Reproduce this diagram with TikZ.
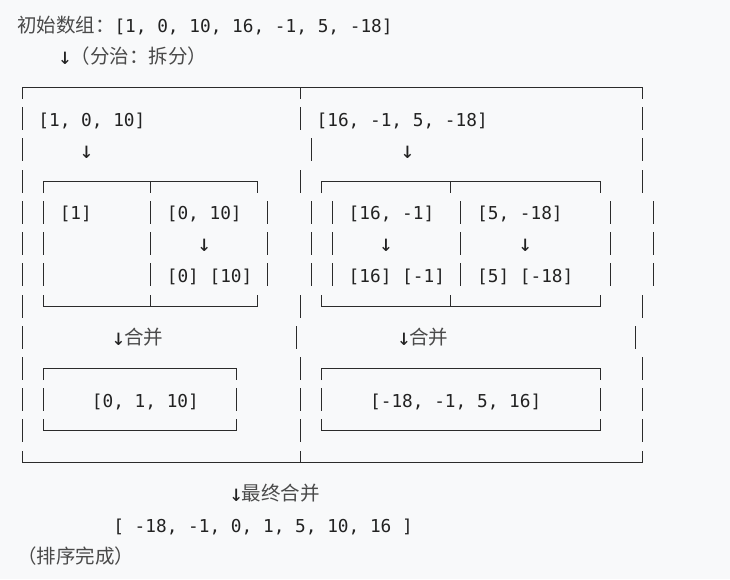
\documentclass[tikz,border=0pt]{standalone}
\usepackage{fontspec}
\newfontfamily\monofam{DejaVu Sans Mono}
\newfontfamily\cjkfam{Noto Sans CJK SC}
\definecolor{bg}{HTML}{F8F9FA}
\definecolor{ink}{HTML}{222222}
\definecolor{cjkcol}{HTML}{4A4A4A}
\definecolor{linecol}{HTML}{2B2B2B}
\newcommand\monof{\monofam\fontsize{17.77}{20}\selectfont}
\newcommand\cjkf{\cjkfam\fontsize{19.5}{22}\selectfont\color{cjkcol}}
\newcommand\darr{\makebox[10.7pt]{\fontsize{23}{23}\selectfont\raisebox{-0.6pt}{↓}}}
\newcommand\ry[1]{(25+31.23*(#1))}
\newcommand\ly[1]{(floor(25+31.23*(#1))+0.5)}
\newcommand\vfull[2]{\draw[boxline] (#1,{\ly{#2}-11.5}) -- (#1,{\ly{#2}+11.5});}
\newcommand\vdown[2]{\draw[boxline] (#1,{\ly{#2}}) -- (#1,{\ly{#2}+11.5});}
\newcommand\vup[2]{\draw[boxline] (#1,{\ly{#2}-11.5}) -- (#1,{\ly{#2}});}
\newcommand\boxtop[3]{\draw[boxline] (#1,{\ly{#3}+11.5}) |- (#2,{\ly{#3}}) -- (#2,{\ly{#3}+11.5});}
\newcommand\boxbot[3]{\draw[boxline] (#1,{\ly{#3}-11.5}) |- (#2,{\ly{#3}}) -- (#2,{\ly{#3}-11.5});}
\begin{document}
\begin{tikzpicture}[x=1pt,y=-1pt,
  boxline/.style={draw=linecol,line width=1.5pt},
  txt/.style={anchor=base west,inner sep=0pt,outer sep=0pt,text=ink,font=\monof},
  arr/.style={anchor=base,inner sep=0pt,outer sep=0pt,text=ink,font=\monof}]
\fill[bg] (0,0) rectangle (730,579);
\useasboundingbox (0,0) rectangle (730,579);

% ---------- outer frame ----------
\boxtop{22.5}{642.5}{2}
\vdown{300.5}{2}
\boxbot{22.5}{642.5}{14}
\vup{300.5}{14}

% ---------- inner split boxes ----------
\boxtop{43.5}{257.5}{5}  \vdown{150.5}{5}
\boxbot{43.5}{257.5}{9}  \vup{150.5}{9}
\boxtop{321.5}{600.5}{5} \vdown{450.5}{5}
\boxbot{321.5}{600.5}{9} \vup{450.5}{9}

% ---------- merged boxes ----------
\boxtop{43.5}{236.5}{11}  \boxbot{43.5}{236.5}{13}
\boxtop{321.5}{600.5}{11} \boxbot{321.5}{600.5}{13}

% ---------- vertical bars per row ----------
\foreach \x in {22.5,300.5,642.5} {\vfull{\x}{3}}
\foreach \x in {22.5,311.5,642.5} {\vfull{\x}{4}}
\foreach \x in {22.5,300.5,642.5} {\vfull{\x}{5}}
\foreach \r in {6,7,8} {
  \foreach \x in {22.5,43.5,150.5,267.5,311.5,332.5,460.5,610.5,653.5} {\vfull{\x}{\r}}
}
\foreach \x in {22.5,300.5,642.5} {\vfull{\x}{9}}
\foreach \x in {22.5,296.5,635.5} {\vfull{\x}{10}}
\foreach \x in {22.5,300.5,642.5} {\vfull{\x}{11}}
\foreach \x in {22.5,43.5,236.5,300.5,321.5,600.5,642.5} {\vfull{\x}{12}}
\foreach \x in {22.5,300.5,642.5} {\vfull{\x}{13}}

% ---------- texts ----------
\node[txt] (title) at (17,{\ry{0}+7.5}) {{\cjkf 初始数组：}[1, 0, 10, 16, -1, 5, -18]};
\node[txt] (split) at (59.8,{\ry{1}+7.5}) {\darr{\cjkf（分治：拆分）}};

\node[txt] (L) at (38.4,{\ry{3}+7.5}) {[1, 0, 10]};
\node[txt] (R) at (316.6,{\ry{3}+7.5}) {[16, -1, 5, -18]};
\node[arr] (aL) at (86.5,{\ry{4}+7.5}) {\darr};
\node[arr] (aR) at (407.5,{\ry{4}+7.5}) {\darr};

\node[txt] (LL) at (59.8,{\ry{6}+7.5}) {[1]};
\node[txt] (LR) at (166.8,{\ry{6}+7.5}) {[0, 10]};
\node[txt] (RL) at (348.7,{\ry{6}+7.5}) {[16, -1]};
\node[txt] (RR) at (477.1,{\ry{6}+7.5}) {[5, -18]};

\node[arr] (aLR) at (204.2,{\ry{7}+7.5}) {\darr};
\node[arr] (aRL) at (386.1,{\ry{7}+7.5}) {\darr};
\node[arr] (aRR) at (525.2,{\ry{7}+7.5}) {\darr};

\node[txt] (LRs) at (166.8,{\ry{8}+7.5}) {[0] [10]};
\node[txt] (RLs) at (348.7,{\ry{8}+7.5}) {[16] [-1]};
\node[txt] (RRs) at (477.1,{\ry{8}+7.5}) {[5] [-18]};

\node[txt] (mL) at (113.3,{\ry{10}+7.5}) {\darr{\cjkf 合并}};
\node[txt] (mR) at (398.6,{\ry{10}+7.5}) {\darr{\cjkf 合并}};

\node[txt] (sL) at (91.9,{\ry{12}+7.5}) {[0, 1, 10]};
\node[txt] (sR) at (370.1,{\ry{12}+7.5}) {[-18, -1, 5, 16]};

\node[txt] (mF) at (231.0,{\ry{15}+7.5}) {\darr{\cjkf 最终合并}};
\node[txt] (res) at (113.3,{\ry{16}+7.5}) {[ -18, -1, 0, 1, 5, 10, 16 ]};
\node[txt] (done) at (17,{\ry{17}+7.5}) {{\cjkf（排序完成）}};
\end{tikzpicture}
\end{document}
